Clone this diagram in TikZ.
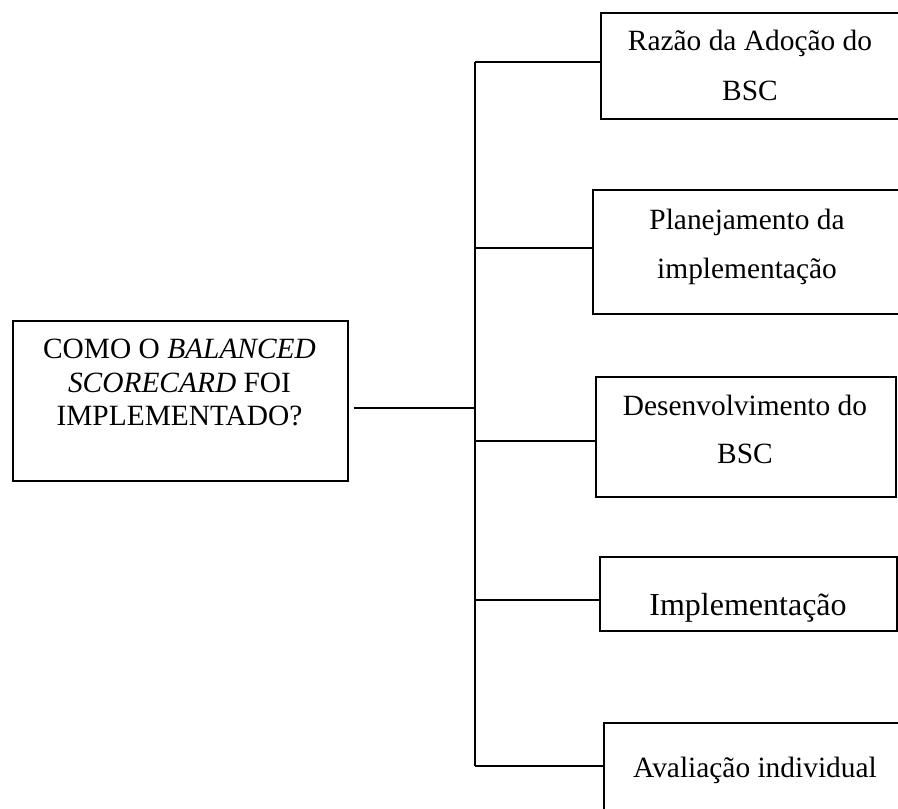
\documentclass[tikz,border=0pt]{standalone}
\usepackage{fontspec}
\setmainfont{Liberation Serif}
\begin{document}
\begin{tikzpicture}[x=1pt,y=-1pt,
  box/.style={draw, line width=1.5pt, anchor=north west, inner sep=0pt},
  txt/.style={anchor=base, inner sep=0pt, font=\fontsize{29.4}{34}\selectfont},
  link/.style={line width=1.8pt}]
\useasboundingbox (0,0) rectangle (898,809);
\clip (0,0) rectangle (898,809);

% question box
\node[box, minimum width=335pt, minimum height=160pt] (main) at (12,320) {};
\node[txt] (m1) at (179.5,358) {COMO O \textit{BALANCED}};
\node[txt] (m2) at (179.5,392) {\textit{SCORECARD} FOI};
\node[txt] (m3) at (179.5,425) {IMPLEMENTADO?};

% topic boxes
\node[box, minimum width=300pt, minimum height=106pt] (b1) at (600,12) {};
\node[txt] (t1a) at (750,50) {Razão da Adoção do};
\node[txt] (t1b) at (750,100) {BSC};

\node[box, minimum width=310pt, minimum height=124pt] (b2) at (592,189) {};
\node[txt] (t2a) at (747,229) {Planejamento da};
\node[txt] (t2b) at (747,278) {implementação};

\node[box, minimum width=300pt, minimum height=120pt] (b3) at (595,376) {};
\node[txt] (t3a) at (745,415) {Desenvolvimento do};
\node[txt] (t3b) at (745,463) {BSC};

\node[box, minimum width=297pt, minimum height=74pt] (b4) at (599,556) {};
\node[txt, font=\fontsize{32}{38}\selectfont] (t4) at (748,615) {Implementação};

\node[box, minimum width=304pt, minimum height=110pt] (b5) at (603,722) {};
\node[txt] (t5) at (755,777) {Avaliação individual};

% trunk junctions
\coordinate (j1) at (475,62);
\coordinate (j2) at (475,248);
\coordinate (jm) at (475,408);
\coordinate (j3) at (475,441);
\coordinate (j4) at (475,600);
\coordinate (j5) at (475,766);

\draw[link] (j1) -- (j5);
\draw[line width=2.5pt] ([xshift=5pt]main.east |- jm) -- (jm);
\foreach \j/\b in {j1/b1, j2/b2, j3/b3, j4/b4, j5/b5}
  \draw[link] (\j) -- (\j -| \b.west);
\end{tikzpicture}
\end{document}
